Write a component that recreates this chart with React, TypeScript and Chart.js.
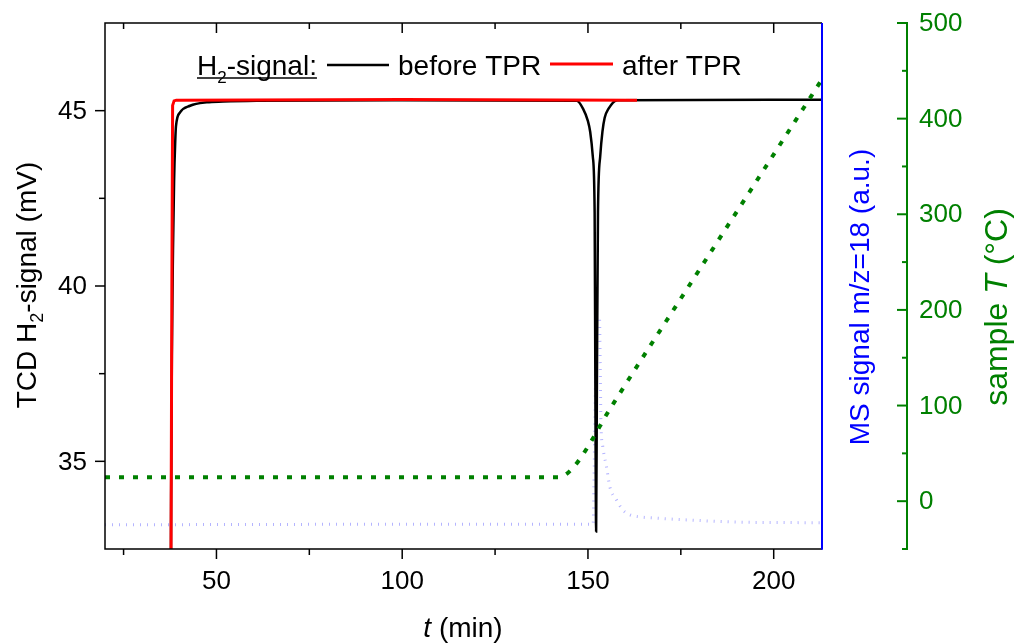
import React, { useEffect, useRef } from "react";
import { Chart, registerables } from "chart.js";

Chart.register(...registerables);

// ---------- data ----------
// TCD H2-signal before TPR (black)
const beforeTime = [37.7, 37.8, 38.0, 38.3, 38.6, 38.9, 39.1, 40.2, 42.9, 47.4, 51.8, 60.8, 100, 147, 148.7, 150, 150.6, 151.3, 151.8, 152.0, 152.2, 152.4, 152.7, 153.3, 153.9, 154.5, 155.5, 157.9, 213];
const beforeSignal = [30, 34, 38, 41, 43, 44.1, 44.55, 44.95, 45.14, 45.24, 45.26, 45.28, 45.3, 45.28, 45.05, 44.7, 44.4, 43.7, 42.1, 37, 33.0, 37, 42.1, 43.7, 44.4, 44.8, 45.05, 45.3, 45.31];

// TCD H2-signal after TPR (red)
const afterTime = [37.7, 38.0, 38.2, 38.6, 39.2, 100, 163.2];
const afterSignal = [30, 40, 45.15, 45.28, 45.3, 45.32, 45.3];

// MS signal m/z=18 (arbitrary units, hidden axis 0..100)
const msTime = [20, 100, 151.4, 151.6, 151.8, 152.4, 153.1, 153.3, 153.5, 154.0, 155.0, 155.9, 157.7, 159.4, 161.3, 164, 167.5, 177.5, 190.9, 213];
const msSignal = [4.6, 4.7, 4.7, 12, 21, 44, 44, 35, 24, 19.4, 15.6, 11.8, 9.3, 7.4, 6.5, 6.1, 5.9, 5.5, 5.1, 5.0];

// sample temperature (green, right axis)
const tempTime = [20, 142, 144, 146, 148, 150, 152, 154, 157, 180, 213];
const tempValue = [25, 25, 28, 35, 45, 57, 70, 84, 103, 242, 441];

// ticks
const xMajorTicks = [50, 100, 150, 200];
const xMinorTicks = [25, 75, 125, 175];
const yMajorTicks = [35, 40, 45];
const yMinorTicks = [37.5, 42.5];
const tMajorTicks = [0, 100, 200, 300, 400, 500];
const tMinorTicks = [-50, 50, 150, 250, 350, 450];

const FAM = 'Arial, "Liberation Sans", Helvetica, sans-serif';
const GREEN = "#008000";
const BLUE = "#0000ff";

const pts = (xs: number[], ys: number[]) => xs.map((x, i) => ({ x, y: ys[i] }));

type Run = { text: string; font: string; dy?: number };

function drawRuns(
  ctx: CanvasRenderingContext2D,
  runs: Run[],
  x: number,
  y: number,
  rotate: number,
  align: "left" | "center" | "right",
  color: string
) {
  ctx.save();
  ctx.translate(x, y);
  if (rotate) ctx.rotate(rotate);
  ctx.fillStyle = color;
  ctx.textBaseline = "alphabetic";
  ctx.textAlign = "left";
  let total = 0;
  const widths = runs.map((r) => {
    ctx.font = r.font;
    const w = ctx.measureText(r.text).width;
    total += w;
    return w;
  });
  let cx = align === "center" ? -total / 2 : align === "right" ? -total : 0;
  runs.forEach((r, i) => {
    ctx.font = r.font;
    ctx.fillText(r.text, cx, r.dy || 0);
    cx += widths[i];
  });
  ctx.restore();
  return total;
}

const axesPlugin = {
  id: "customAxes",
  afterDatasetsDraw(chart: any) {
    const ctx: CanvasRenderingContext2D = chart.ctx;
    const { left, right, top, bottom } = chart.chartArea;
    const xs = chart.scales.x;
    const ys = chart.scales.y;
    const ts = chart.scales.yT;
    ctx.save();
    ctx.lineCap = "butt";

    const tick = (x1: number, y1: number, x2: number, y2: number) => {
      ctx.beginPath();
      ctx.moveTo(x1, y1);
      ctx.lineTo(x2, y2);
      ctx.stroke();
    };

    // frame (left, top, bottom)
    ctx.strokeStyle = "#000";
    ctx.lineWidth = 1.5;
    ctx.beginPath();
    ctx.moveTo(right, top);
    ctx.lineTo(left, top);
    ctx.lineTo(left, bottom);
    ctx.lineTo(right, bottom);
    ctx.stroke();

    // x ticks: bottom outward, top inward
    xMajorTicks.forEach((v) => {
      const px = xs.getPixelForValue(v);
      tick(px, bottom, px, bottom + 10);
      tick(px, top, px, top + 10);
    });
    xMinorTicks.forEach((v) => {
      const px = xs.getPixelForValue(v);
      tick(px, bottom, px, bottom + 6);
      tick(px, top, px, top + 6);
    });
    // y ticks outward left
    yMajorTicks.forEach((v) => {
      const py = ys.getPixelForValue(v);
      tick(left - 10, py, left, py);
    });
    yMinorTicks.forEach((v) => {
      const py = ys.getPixelForValue(v);
      tick(left - 6, py, left, py);
    });

    // blue right border (MS axis)
    ctx.strokeStyle = BLUE;
    ctx.lineWidth = 2;
    tick(right, top, right, bottom + 0.75);

    // green temperature axis
    const gx = 907;
    ctx.strokeStyle = GREEN;
    ctx.lineWidth = 2;
    tick(gx, ts.getPixelForValue(500) - 1, gx, ts.getPixelForValue(-50) + 1);
    tMajorTicks.forEach((v) => {
      const py = ts.getPixelForValue(v);
      tick(gx - 10, py, gx, py);
    });
    tMinorTicks.forEach((v) => {
      const py = ts.getPixelForValue(v);
      tick(gx - 5, py, gx, py);
    });

    // tick labels
    ctx.font = `26px ${FAM}`;
    ctx.fillStyle = "#000";
    ctx.textAlign = "center";
    ctx.textBaseline = "alphabetic";
    xMajorTicks.forEach((v) => {
      ctx.fillText(String(v), xs.getPixelForValue(v), 589);
    });
    ctx.textAlign = "right";
    ctx.textBaseline = "middle";
    yMajorTicks.forEach((v) => {
      ctx.fillText(String(v), 87, ys.getPixelForValue(v) + 1);
    });
    ctx.fillStyle = GREEN;
    ctx.textAlign = "left";
    tMajorTicks.forEach((v) => {
      ctx.fillText(String(v), 919, ts.getPixelForValue(v) + 1);
    });

    // axis titles
    const f28 = `28px ${FAM}`;
    const f28i = `italic 28px ${FAM}`;
    drawRuns(ctx, [
      { text: "TCD H", font: f28 },
      { text: "2", font: `18px ${FAM}`, dy: 7 },
      { text: "-signal (mV)", font: f28 },
    ], 36, 285, -Math.PI / 2, "center", "#000");
    drawRuns(ctx, [
      { text: "t", font: f28i },
      { text: " (min)", font: f28 },
    ], 463, 637, 0, "center", "#000");
    drawRuns(ctx, [{ text: "MS signal m/z=18 (a.u.)", font: f28 }], 869, 297, -Math.PI / 2, "center", BLUE);
    drawRuns(ctx, [
      { text: "sample ", font: `32px ${FAM}` },
      { text: "T", font: `italic 32px ${FAM}` },
      { text: " (°C)", font: `32px ${FAM}` },
    ], 1007, 307, -Math.PI / 2, "center", GREEN);

    // legend
    const lx = 197;
    const ly = 75;
    const w = drawRuns(ctx, [
      { text: "H", font: f28 },
      { text: "2", font: `17px ${FAM}`, dy: 8 },
      { text: "-signal:", font: f28 },
    ], lx, ly, 0, "left", "#000");
    ctx.strokeStyle = "#000";
    ctx.lineWidth = 1.5;
    tick(lx, 78, lx + w, 78);
    ctx.lineWidth = 2.5;
    tick(327, 65, 389, 65);
    drawRuns(ctx, [{ text: "before TPR", font: f28 }], 398, ly, 0, "left", "#000");
    ctx.strokeStyle = "#ff0000";
    ctx.lineWidth = 3;
    tick(550, 64, 613, 64);
    drawRuns(ctx, [{ text: "after TPR", font: f28 }], 622, ly, 0, "left", "#000");

    ctx.restore();
  },
};

export default function App() {
  const ref = useRef<HTMLCanvasElement | null>(null);

  useEffect(() => {
    if (!ref.current) return;
    const chart = new Chart(ref.current, {
      type: "line",
      data: {
        datasets: [
          {
            label: "sample T",
            data: pts(tempTime, tempValue),
            yAxisID: "yT",
            borderColor: GREEN,
            borderWidth: 4,
            borderDash: [5, 9],
            cubicInterpolationMode: "monotone",
            pointRadius: 0,
            fill: false,
            clip: 0,
          },
          {
            label: "after TPR",
            data: pts(afterTime, afterSignal),
            yAxisID: "y",
            borderColor: "#ff0000",
            borderWidth: 3,
            pointRadius: 0,
            fill: false,
            clip: 0,
          },
          {
            label: "before TPR",
            data: pts(beforeTime, beforeSignal),
            yAxisID: "y",
            borderColor: "#000000",
            borderWidth: 2.5,
            cubicInterpolationMode: "monotone",
            pointRadius: 0,
            fill: false,
            clip: 0,
          },
          {
            label: "MS m/z=18",
            data: pts(msTime, msSignal),
            yAxisID: "yMS",
            borderColor: "rgba(140,140,255,0.65)",
            borderWidth: 3,
            borderDash: [1, 6],
            cubicInterpolationMode: "monotone",
            pointRadius: 0,
            fill: false,
            clip: 0,
          },
        ],
      },
      options: {
        animation: false,
        responsive: false,
        maintainAspectRatio: false,
        layout: { padding: { left: 105, right: 192, top: 23, bottom: 94 } },
        plugins: { legend: { display: false }, tooltip: { enabled: false } },
        scales: {
          x: { type: "linear", min: 20, max: 213, display: false },
          y: { type: "linear", min: 32.5, max: 47.5, display: false },
          yMS: { type: "linear", min: 0, max: 100, display: false },
          yT: { type: "linear", min: -50, max: 500, display: false },
        },
      },
      plugins: [axesPlugin],
    } as any);
    return () => chart.destroy();
  }, []);

  return (
    <div style={{ position: "fixed", left: 0, top: 0, width: 1014, height: 643, background: "#fff" }}>
      <canvas ref={ref} width={1014} height={643} style={{ display: "block", width: 1014, height: 643 }} />
    </div>
  );
}
